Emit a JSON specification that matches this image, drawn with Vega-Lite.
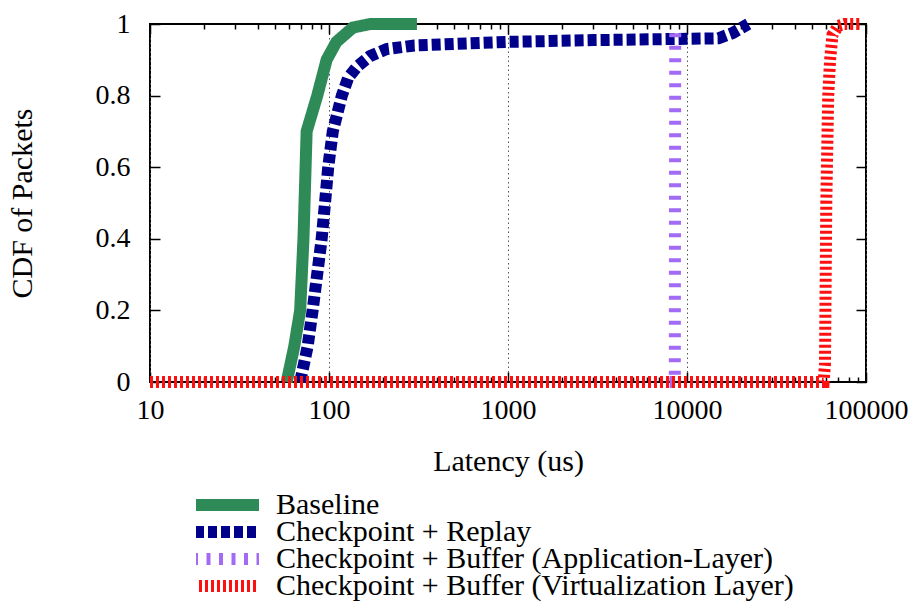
{
  "$schema": "https://vega.github.io/schema/vega-lite/v6.json",
  "width": 716,
  "height": 358,
  "autosize": {"type": "none"},
  "padding": {"left": 150, "top": 24, "right": 53, "bottom": 232},
  "background": "white",
  "config": {
    "view": {"stroke": "black", "strokeWidth": 2},
    "font": "Liberation Serif",
    "axis": {
      "labelFont": "Liberation Serif",
      "titleFont": "Liberation Serif",
      "labelColor": "black",
      "titleColor": "black",
      "labelFontSize": 28,
      "titleFontSize": 30,
      "titleFontWeight": "normal",
      "tickColor": "black",
      "tickWidth": 1.5,
      "domain": false
    },
    "legend": {
      "labelFont": "Liberation Serif",
      "labelFontSize": 30,
      "labelColor": "black",
      "labelLimit": 0
    }
  },
  "datasets": {
    "curves": [
      {"series": "Baseline", "i": 1, "x": 58, "y": 0},
      {"series": "Baseline", "i": 2, "x": 64, "y": 0.1},
      {"series": "Baseline", "i": 3, "x": 69, "y": 0.2},
      {"series": "Baseline", "i": 4, "x": 72, "y": 0.4},
      {"series": "Baseline", "i": 5, "x": 75, "y": 0.7},
      {"series": "Baseline", "i": 6, "x": 86, "y": 0.8},
      {"series": "Baseline", "i": 7, "x": 97, "y": 0.9},
      {"series": "Baseline", "i": 8, "x": 110, "y": 0.95},
      {"series": "Baseline", "i": 9, "x": 136, "y": 0.99},
      {"series": "Baseline", "i": 10, "x": 170, "y": 1},
      {"series": "Baseline", "i": 11, "x": 310, "y": 1},

      {"series": "Checkpoint + Replay", "i": 1, "x": 69, "y": 0},
      {"series": "Checkpoint + Replay", "i": 2, "x": 76, "y": 0.1},
      {"series": "Checkpoint + Replay", "i": 3, "x": 81, "y": 0.2},
      {"series": "Checkpoint + Replay", "i": 4, "x": 91, "y": 0.4},
      {"series": "Checkpoint + Replay", "i": 5, "x": 95, "y": 0.5},
      {"series": "Checkpoint + Replay", "i": 6, "x": 99, "y": 0.6},
      {"series": "Checkpoint + Replay", "i": 7, "x": 105, "y": 0.7},
      {"series": "Checkpoint + Replay", "i": 8, "x": 118, "y": 0.8},
      {"series": "Checkpoint + Replay", "i": 9, "x": 128, "y": 0.85},
      {"series": "Checkpoint + Replay", "i": 10, "x": 143, "y": 0.88},
      {"series": "Checkpoint + Replay", "i": 11, "x": 169, "y": 0.91},
      {"series": "Checkpoint + Replay", "i": 12, "x": 210, "y": 0.93},
      {"series": "Checkpoint + Replay", "i": 13, "x": 300, "y": 0.94},
      {"series": "Checkpoint + Replay", "i": 14, "x": 1000, "y": 0.95},
      {"series": "Checkpoint + Replay", "i": 15, "x": 3000, "y": 0.955},
      {"series": "Checkpoint + Replay", "i": 16, "x": 8000, "y": 0.958},
      {"series": "Checkpoint + Replay", "i": 17, "x": 15000, "y": 0.96},
      {"series": "Checkpoint + Replay", "i": 18, "x": 18000, "y": 0.975},
      {"series": "Checkpoint + Replay", "i": 19, "x": 22000, "y": 1},

      {"series": "Checkpoint + Buffer (Application-Layer)", "i": 1, "x": 8000, "y": 0},
      {"series": "Checkpoint + Buffer (Application-Layer)", "i": 2, "x": 8550, "y": 0},
      {"series": "Checkpoint + Buffer (Application-Layer)", "i": 3, "x": 8570, "y": 0.5},
      {"series": "Checkpoint + Buffer (Application-Layer)", "i": 4, "x": 8600, "y": 0.985},

      {"series": "Checkpoint + Buffer (Virtualization Layer)", "i": 1, "x": 10, "y": 0},
      {"series": "Checkpoint + Buffer (Virtualization Layer)", "i": 2, "x": 58000, "y": 0},
      {"series": "Checkpoint + Buffer (Virtualization Layer)", "i": 3, "x": 59000, "y": 0.05},
      {"series": "Checkpoint + Buffer (Virtualization Layer)", "i": 4, "x": 60000, "y": 0.5},
      {"series": "Checkpoint + Buffer (Virtualization Layer)", "i": 5, "x": 61500, "y": 0.8},
      {"series": "Checkpoint + Buffer (Virtualization Layer)", "i": 6, "x": 63000, "y": 0.9},
      {"series": "Checkpoint + Buffer (Virtualization Layer)", "i": 7, "x": 65000, "y": 0.97},
      {"series": "Checkpoint + Buffer (Virtualization Layer)", "i": 8, "x": 70000, "y": 0.995},
      {"series": "Checkpoint + Buffer (Virtualization Layer)", "i": 9, "x": 76000, "y": 1},
      {"series": "Checkpoint + Buffer (Virtualization Layer)", "i": 10, "x": 95000, "y": 1}
    ]
  },
  "data": {"name": "curves"},
  "resolve": {"axis": {"x": "independent", "y": "independent"}},
  "layer": [
    {
      "mark": {"type": "line", "strokeWidth": 12, "clip": false},
      "encoding": {
        "x": {
          "field": "x", "type": "quantitative",
          "scale": {"type": "log", "domain": [10, 100000], "nice": false},
          "axis": {
            "orient": "bottom",
            "values": [10, 100, 1000, 10000, 100000],
            "format": "d",
            "tickSize": -10,
            "labelPadding": 24,
            "labelFlush": false,
            "labelOverlap": false,
            "grid": true,
            "gridColor": "#555555",
            "gridDash": [1.5, 3],
            "gridWidth": 1,
            "title": "Latency (us)",
            "titlePadding": 22
          }
        },
        "y": {
          "field": "y", "type": "quantitative",
          "scale": {"domain": [0, 1], "nice": false, "zero": false},
          "axis": {
            "orient": "left",
            "values": [0, 0.2, 0.4, 0.6, 0.8, 1],
            "format": "~g",
            "tickSize": -10,
            "labelPadding": 30,
            "grid": false,
            "title": "CDF of Packets",
            "titlePadding": 58
          }
        },
        "color": {
          "field": "series", "type": "nominal",
          "scale": {
            "domain": ["Baseline", "Checkpoint + Replay", "Checkpoint + Buffer (Application-Layer)", "Checkpoint + Buffer (Virtualization Layer)"],
            "range": ["#2E8B57", "#00008B", "#A36BF5", "#FF1010"]
          },
          "legend": {
            "orient": "none",
            "legendX": 46,
            "legendY": 469,
            "title": null,
            "symbolType": "M-3.75,0H3.75",
            "symbolSize": 576,
            "symbolStrokeWidth": 12,
            "labelOffset": 44,
            "clipHeight": 24,
            "rowPadding": -6,
            "padding": 0
          }
        },
        "strokeDash": {
          "field": "series", "type": "nominal",
          "scale": {
            "domain": ["Baseline", "Checkpoint + Replay", "Checkpoint + Buffer (Application-Layer)", "Checkpoint + Buffer (Virtualization Layer)"],
            "range": [[1, 0], [9, 4], [4, 8.5], [3, 3]]
          },
          "legend": {
            "orient": "none",
            "legendX": 46,
            "legendY": 469,
            "title": null,
            "symbolType": "M-3.75,0H3.75",
            "symbolSize": 576,
            "symbolStrokeWidth": 12,
            "labelOffset": 44,
            "clipHeight": 24,
            "rowPadding": -6,
            "padding": 0
          }
        },
        "order": {"field": "i", "type": "quantitative"}
      }
    },
    {
      "mark": {"type": "point", "opacity": 0},
      "encoding": {
        "x": {
          "field": "x", "type": "quantitative",
          "axis": {"orient": "top", "values": [10, 100, 1000, 10000, 100000], "tickSize": -10, "labels": false, "grid": false, "title": null}
        },
        "y": {
          "field": "y", "type": "quantitative",
          "axis": {"orient": "right", "values": [0, 0.2, 0.4, 0.6, 0.8, 1], "tickSize": -10, "labels": false, "grid": false, "title": null}
        }
      }
    },
    {
      "mark": {"type": "point", "opacity": 0},
      "encoding": {
        "x": {
          "field": "x", "type": "quantitative",
          "axis": {"orient": "bottom", "values": [20, 30, 40, 50, 60, 70, 80, 90, 200, 300, 400, 500, 600, 700, 800, 900, 2000, 3000, 4000, 5000, 6000, 7000, 8000, 9000, 20000, 30000, 40000, 50000, 60000, 70000, 80000, 90000], "tickSize": -5, "labels": false, "grid": false, "title": null}
        },
        "y": {"field": "y", "type": "quantitative", "axis": null}
      }
    },
    {
      "mark": {"type": "point", "opacity": 0},
      "encoding": {
        "x": {
          "field": "x", "type": "quantitative",
          "axis": {"orient": "top", "values": [20, 30, 40, 50, 60, 70, 80, 90, 200, 300, 400, 500, 600, 700, 800, 900, 2000, 3000, 4000, 5000, 6000, 7000, 8000, 9000, 20000, 30000, 40000, 50000, 60000, 70000, 80000, 90000], "tickSize": -5, "labels": false, "grid": false, "title": null}
        },
        "y": {"field": "y", "type": "quantitative", "axis": null}
      }
    }
  ]
}
